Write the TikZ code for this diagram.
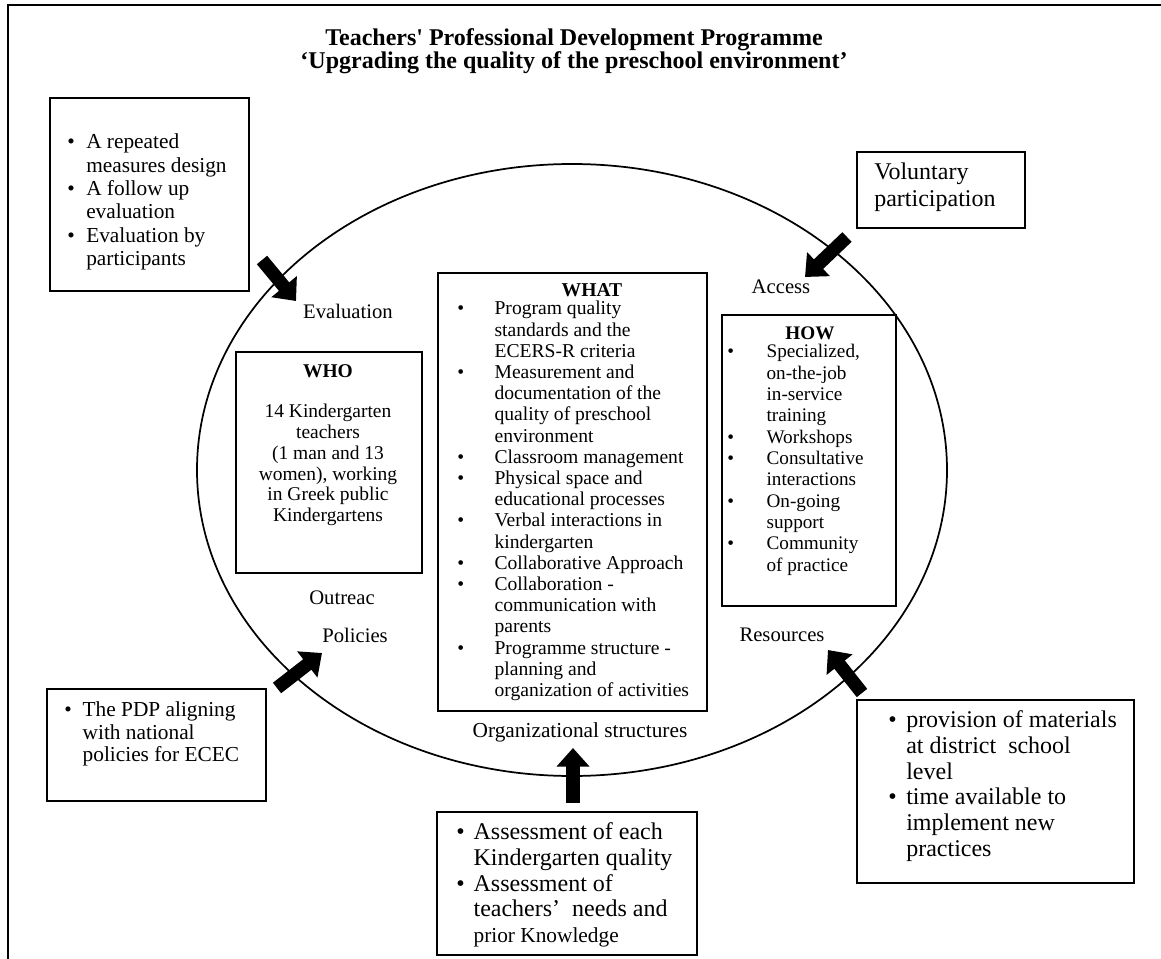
\documentclass[tikz,border=0pt]{standalone}
\usepackage{fontspec}
\setmainfont{Liberation Serif}
\usepackage{tikz}
\usetikzlibrary{arrows.meta, positioning, fit}
\newcommand{\bul}[1]{\makebox[#1][l]{\textbullet}}
\newcommand{\ind}[1]{\hspace*{#1}}
\tikzset{
    panel/.style={rectangle, draw=black, line width=1.4pt, inner sep=0pt},
    txt/.style={inner sep=0pt, align=left, anchor=west},
    tag/.style={inner sep=0pt, font=\fontsize{15.5}{18}\selectfont},
    push/.style={line width=10pt, -{Triangle[length=14pt, width=24pt]}}
}

\begin{document}
\begin{tikzpicture}[x=0.75pt, y=-0.75pt]
    % Page frame
    \useasboundingbox (0,0) rectangle (1161,959);
    \draw[line width=1.5pt] (1161,5) -- (8,5) -- (8,959);

    % Title
    \node[align=center, font=\bfseries\fontsize{18}{16.5}\selectfont] (title) at (574,51) {Teachers\textquotesingle\ Professional Development Programme\\‘Upgrading the quality of the preschool environment’};

    % Programme ring
    \draw[line width=1.3pt] (572,470) ellipse [x radius=281.25pt, y radius=229.5pt];

    % WHO
    \node[panel, fit={(236,352) (422,573)}] (whobox) {};
    \node[font=\bfseries\fontsize{14.6}{15.6}\selectfont] (who) at (328,371) {WHO};
    \node[align=center, inner sep=0pt, font=\fontsize{14.6}{15.6}\selectfont] (whotxt) at (328,465) {14 Kindergarten\\teachers\\(1 man and 13\\women), working\\in Greek public\\Kindergartens};

    % WHAT
    \node[panel, fit={(438,273) (707,711)}] (whatbox) {};
    \node[font=\bfseries\fontsize{14.7}{15.9}\selectfont] (what) at (592,290) {WHAT};
    \node[txt, font=\fontsize{14.7}{15.9}\selectfont] (whattxt) at (457,501) {\bul{28pt}Program quality\\\ind{28pt}standards and the\\\ind{28pt}ECERS-R criteria\\
        \bul{28pt}Measurement and\\\ind{28pt}documentation of the\\\ind{28pt}quality of preschool\\\ind{28pt}environment\\
        \bul{28pt}Classroom management\\
        \bul{28pt}Physical space and\\\ind{28pt}educational processes\\
        \bul{28pt}Verbal interactions in\\\ind{28pt}kindergarten\\
        \bul{28pt}Collaborative Approach\\
        \bul{28pt}Collaboration -\\\ind{28pt}communication with\\\ind{28pt}parents\\
        \bul{28pt}Programme structure -\\\ind{28pt}planning and\\\ind{28pt}organization of activities};

    % HOW
    \node[panel, fit={(722,315) (896,606)}] (howbox) {};
    \node[font=\bfseries\fontsize{14.4}{16}\selectfont] (how) at (810,333) {HOW};
    \node[txt, font=\fontsize{14.4}{16}\selectfont] (howtxt) at (727,460) {\bul{29.5pt}Specialized,\\\ind{29.5pt}on-the-job\\\ind{29.5pt}in-service\\\ind{29.5pt}training\\
        \bul{29.5pt}Workshops\\
        \bul{29.5pt}Consultative\\\ind{29.5pt}interactions\\
        \bul{29.5pt}On-going\\\ind{29.5pt}support\\
        \bul{29.5pt}Community\\\ind{29.5pt}of practice};

    % Ring labels
    \node[tag] (evallbl) at (348,311) {Evaluation};
    \node[tag] (accesslbl) at (781,287) {Access};
    \node[tag] (outreach) at (342,598) {Outreac};
    \node[tag] (policylbl) at (355,635) {Policies};
    \node[tag] (reslbl) at (782,635) {Resources};
    \node[tag, font=\fontsize{16}{18}\selectfont] (orglbl) at (580,732) {Organizational structures};

    % Outer boxes
    \node[panel, fit={(50,98) (249,291)}] (evalbox) {};
    \node[txt, font=\fontsize{16}{17.5}\selectfont] (evaltxt) at (67,202) {\bul{14.25pt}A repeated\\\ind{14.25pt}measures design\\
        \bul{14.25pt}A follow up\\\ind{14.25pt}evaluation\\
        \bul{14.25pt}Evaluation by\\\ind{14.25pt}participants};

    \node[panel, fit={(857,152) (1025,228)}] (volbox) {};
    \node[txt, font=\fontsize{18}{20}\selectfont] (voltxt) at (874,187) {Voluntary\\participation};

    \node[panel, fit={(47,689) (266,801)}] (pdpbox) {};
    \node[txt, font=\fontsize{16}{17}\selectfont] (pdptxt) at (64,734) {\bul{13.8pt}The PDP aligning\\\ind{13.8pt}with national\\\ind{13.8pt}policies for ECEC};

    \node[panel, fit={(437,812) (697,955)}] (needbox) {};
    \node[txt, font=\fontsize{18}{19.3}\selectfont] (needtxt) at (456,885) {\bul{13pt}Assessment of each\\\ind{13pt}Kindergarten quality\\
        \bul{13pt}Assessment of\\\ind{13pt}teachers’~ needs and\\\ind{13pt}{\fontsize{16}{19.3}\selectfont prior Knowledge}};

    \node[panel, fit={(857,700) (1134,883)}] (resbox) {};
    \node[txt, font=\fontsize{18}{19.3}\selectfont] (restxt) at (888,786) {\bul{13.5pt}provision of materials\\\ind{13.5pt}at district~ school\\\ind{13.5pt}level\\
        \bul{13.5pt}time available to\\\ind{13.5pt}implement new\\\ind{13.5pt}practices};

    % Block arrows
    \coordinate (evaltail) at (262,260);
    \coordinate (evaltip) at (296,301);
    \coordinate (accesstail) at (847,237);
    \coordinate (accesstip) at (805,277);
    \coordinate (policytail) at (277,688);
    \coordinate (policytip) at (322,653);
    \coordinate (restail) at (862,693);
    \coordinate (restip) at (828,650);
    \coordinate (orgtail) at (573,803);
    \coordinate (orgtip) at (573,748);
    \draw[push] (evaltail) -- (evaltip);
    \draw[push] (accesstail) -- (accesstip);
    \draw[push] (policytail) -- (policytip);
    \draw[push] (restail) -- (restip);
    \draw[push] (orgtail) -- (orgtip);
\end{tikzpicture}
\end{document}
